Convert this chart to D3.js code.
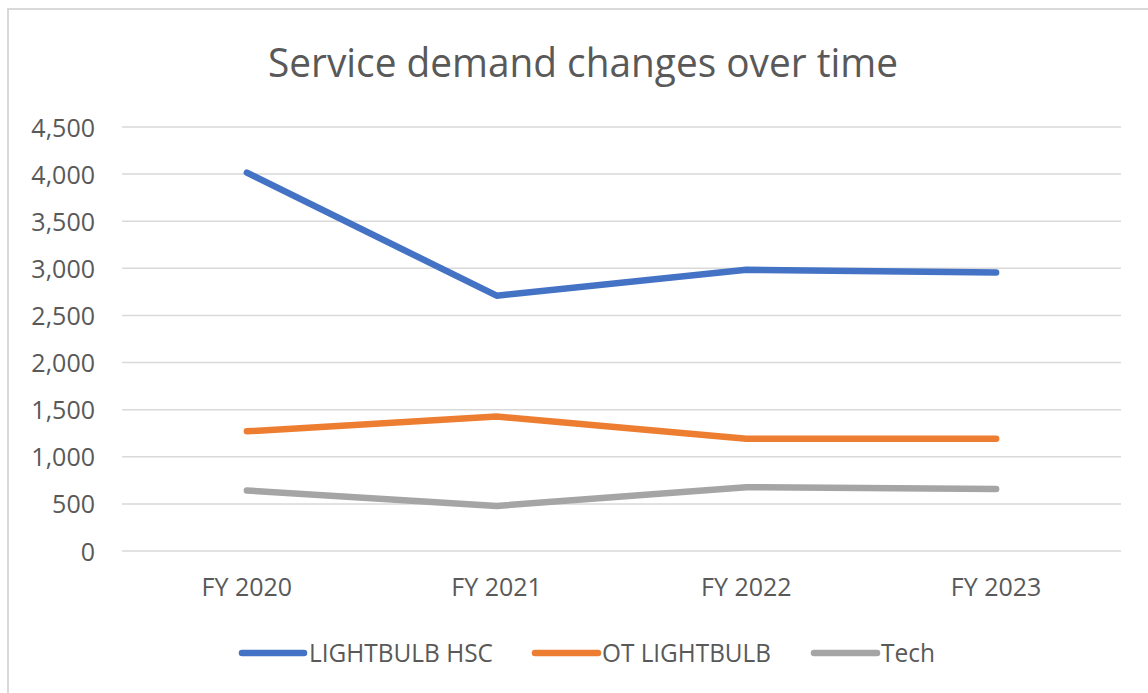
<!DOCTYPE html>
<html>
<head>
<meta charset="utf-8">
<script src="https://cdn.jsdelivr.net/npm/d3@7"></script>
<style>
  html, body { margin: 0; padding: 0; background: #fff; }
  svg { display: block; font-family: "Open Sans", "Noto Sans", sans-serif; }
</style>
</head>
<body>
<svg id="chart" width="1148" height="693"></svg>
<script>
const title = "Service demand changes over time";
const categories = ["FY 2020", "FY 2021", "FY 2022", "FY 2023"];
const seriesNames = ["LIGHTBULB HSC", "OT LIGHTBULB", "Tech"];
const lightbulbHsc = [4015, 2710, 2985, 2955];
const otLightbulb = [1270, 1428, 1192, 1192];
const tech = [642, 478, 677, 657];
const yTicks = [0, 500, 1000, 1500, 2000, 2500, 3000, 3500, 4000, 4500];
const colors = ["#4472C4", "#ED7D31", "#A5A5A5"];

const series = [lightbulbHsc, otLightbulb, tech].map((vals, i) => ({
  name: seriesNames[i], color: colors[i], values: vals
}));

const svg = d3.select("#chart");
const W = 1148, H = 693;
svg.append("rect").attr("width", W).attr("height", H).attr("fill", "#fff");

// chart area border (extends beyond right/bottom edges)
svg.append("rect")
  .attr("x", 8).attr("y", 9).attr("width", W + 20).attr("height", H + 20)
  .attr("fill", "none").attr("stroke", "#D9D9D9").attr("stroke-width", 2);

const plot = { left: 122, right: 1121, top: 127, bottom: 551 };

const x = d3.scaleBand().domain(categories).range([plot.left, plot.right]);
const y = d3.scaleLinear().domain([0, 4500]).range([plot.bottom, plot.top]);
const textColor = "#595959";

// gridlines
svg.append("g").selectAll("line").data(yTicks).join("line")
  .attr("x1", plot.left).attr("x2", plot.right)
  .attr("y1", d => y(d)).attr("y2", d => y(d))
  .attr("stroke", "#D9D9D9").attr("stroke-width", 1.5);

// y axis labels
const yAxis = d3.axisLeft(y).tickValues(yTicks).tickFormat(d3.format(",")).tickSize(0).tickPadding(0);
const yg = svg.append("g").attr("transform", `translate(95,0)`).call(yAxis);
yg.select(".domain").remove();
yg.selectAll("text").attr("fill", textColor).attr("font-size", 25)
  .attr("font-family", "'Open Sans', sans-serif").attr("dy", "0.36em");

// x axis labels
const xAxis = d3.axisBottom(x).tickSize(0).tickPadding(0);
const xg = svg.append("g").attr("transform", `translate(0,596)`).call(xAxis);
xg.select(".domain").remove();
xg.selectAll("text").attr("fill", textColor).attr("font-size", 25)
  .attr("font-family", "'Open Sans', sans-serif").attr("dy", 0);

// lines
const line = d3.line()
  .x((d, i) => x(categories[i]) + x.bandwidth() / 2)
  .y(d => y(d));
svg.append("g").selectAll("path").data(series).join("path")
  .attr("d", d => line(d.values))
  .attr("fill", "none").attr("stroke", d => d.color)
  .attr("stroke-width", 6.5).attr("stroke-linecap", "round").attr("stroke-linejoin", "round");

// title
svg.append("text")
  .attr("x", 583).attr("y", 77).attr("text-anchor", "middle")
  .attr("font-size", 40).attr("fill", textColor)
  .attr("textLength", 630).attr("lengthAdjust", "spacingAndGlyphs")
  .text(title);

// legend
const legendLayout = [
  { x1: 242, x2: 304, tx: 309, tw: 184 },
  { x1: 535, x2: 598, tx: 602, tw: 169 },
  { x1: 814, x2: 877, tx: 881, tw: 54 }
];
const lg = svg.append("g");
series.forEach((s, i) => {
  const L = legendLayout[i];
  lg.append("line").attr("x1", L.x1).attr("x2", L.x2).attr("y1", 653).attr("y2", 653)
    .attr("stroke", s.color).attr("stroke-width", 6.5).attr("stroke-linecap", "round");
  lg.append("text").attr("x", L.tx).attr("y", 662).attr("font-size", 25)
    .attr("fill", textColor).attr("textLength", L.tw).attr("lengthAdjust", "spacingAndGlyphs")
    .text(s.name);
});
</script>
</body>
</html>
